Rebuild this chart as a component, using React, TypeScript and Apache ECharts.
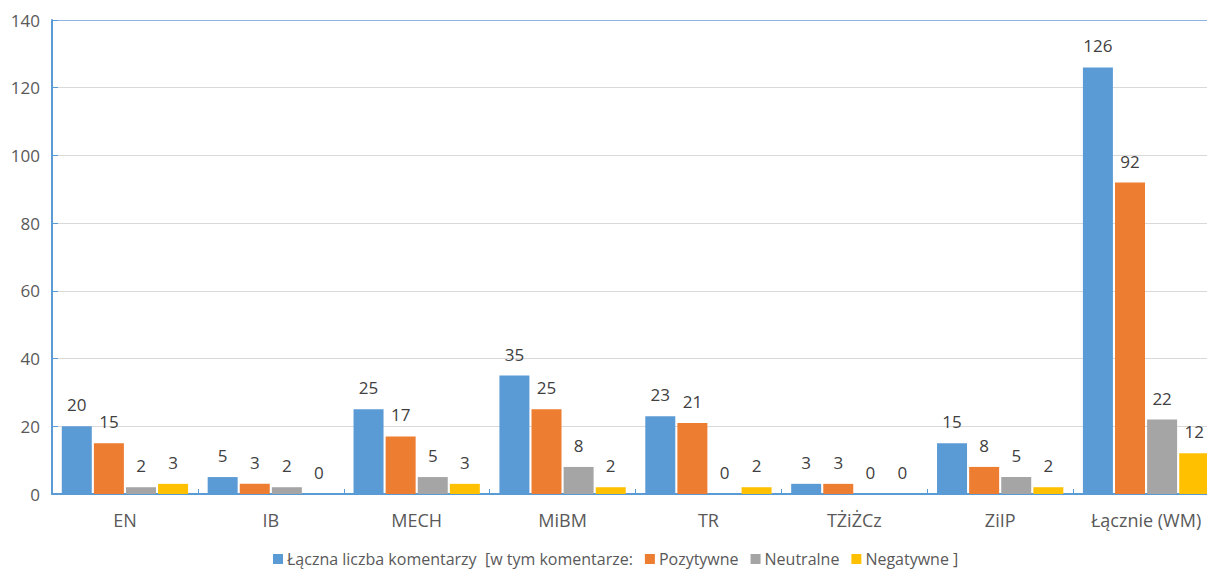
import React, { useEffect, useRef } from "react";
import * as echarts from "echarts";

const categories = ["EN", "IB", "MECH", "MiBM", "TR", "TŻiŻCz", "ZiIP", "Łącznie (WM)"];
const totalValues = [20, 5, 25, 35, 23, 3, 15, 126];
const positiveValues = [15, 3, 17, 25, 21, 3, 8, 92];
const neutralValues = [2, 2, 5, 8, 0, 0, 5, 22];
const negativeValues = [3, 0, 3, 2, 2, 0, 2, 12];
const seriesNames = [
  "Łączna liczba komentarzy  [w tym komentarze:",
  "Pozytywne",
  "Neutralne",
  "Negatywne ]",
];
const colors = ["#5B9BD5", "#ED7D31", "#A5A5A5", "#FFC000"];

export default function App() {
  const ref = useRef<HTMLDivElement>(null);
  useEffect(() => {
    document.body.style.margin = "0";
    document.body.style.overflow = "hidden";
    const chart = echarts.init(ref.current!, null, { renderer: "svg" });
    const font = "'Open Sans', sans-serif";
    const data = [totalValues, positiveValues, neutralValues, negativeValues];
    chart.setOption({
      animation: false,
      textStyle: { fontFamily: font },
      color: colors,
      grid: { left: 52, right: 1, top: 20, bottom: 76, containLabel: false },
      legend: {
        left: 273,
        top: 550,
        padding: 0,
        itemWidth: 10,
        itemHeight: 10,
        itemGap: 12,
        icon: "rect",
        textStyle: { fontFamily: font, fontSize: 16, lineHeight: 18, color: "#595959", padding: [0, 0, 0, -1] },
        data: seriesNames,
      },
      xAxis: [
        {
          type: "category",
          data: categories,
          axisLine: { lineStyle: { color: "#5B9BD5", width: 2 } },
          axisTick: { show: true, inside: true, length: 5, lineStyle: { color: "#5B9BD5", width: 1 } },
          axisLabel: { fontFamily: font, fontSize: 18, color: "#595959", margin: 17 },
        },
        {
          type: "category",
          position: "top",
          data: categories,
          axisLine: { show: true, lineStyle: { color: "#8DB4E2", width: 1 } },
          axisTick: { show: false },
          axisLabel: { show: false },
        },
      ],
      yAxis: {
        type: "value",
        min: 0,
        max: 140,
        interval: 20,
        axisLine: { show: true, lineStyle: { color: "#5B9BD5", width: 2 } },
        axisTick: { show: true, inside: true, length: 6, lineStyle: { color: "#5B9BD5" } },
        splitLine: { show: true, lineStyle: { color: "#D9D9D9", width: 1 } },
        axisLabel: { fontFamily: font, fontSize: 17, color: "#595959", margin: 12 },
      },
      series: data.map((vals, i) => ({
        name: seriesNames[i],
        type: "bar",
        data: vals,
        barWidth: 30,
        barGap: "7%",
        itemStyle: { color: colors[i] },
        label: {
          show: true,
          position: "top",
          distance: 13,
          fontFamily: font,
          fontSize: 17,
          color: "#404040",
        },
      })),
    });
    return () => chart.dispose();
  }, []);
  return (
    <div style={{ width: 1207, height: 570, overflow: "hidden", position: "relative" }}>
      <div ref={ref} style={{ width: 1220, height: 570 }} />
    </div>
  );
}
